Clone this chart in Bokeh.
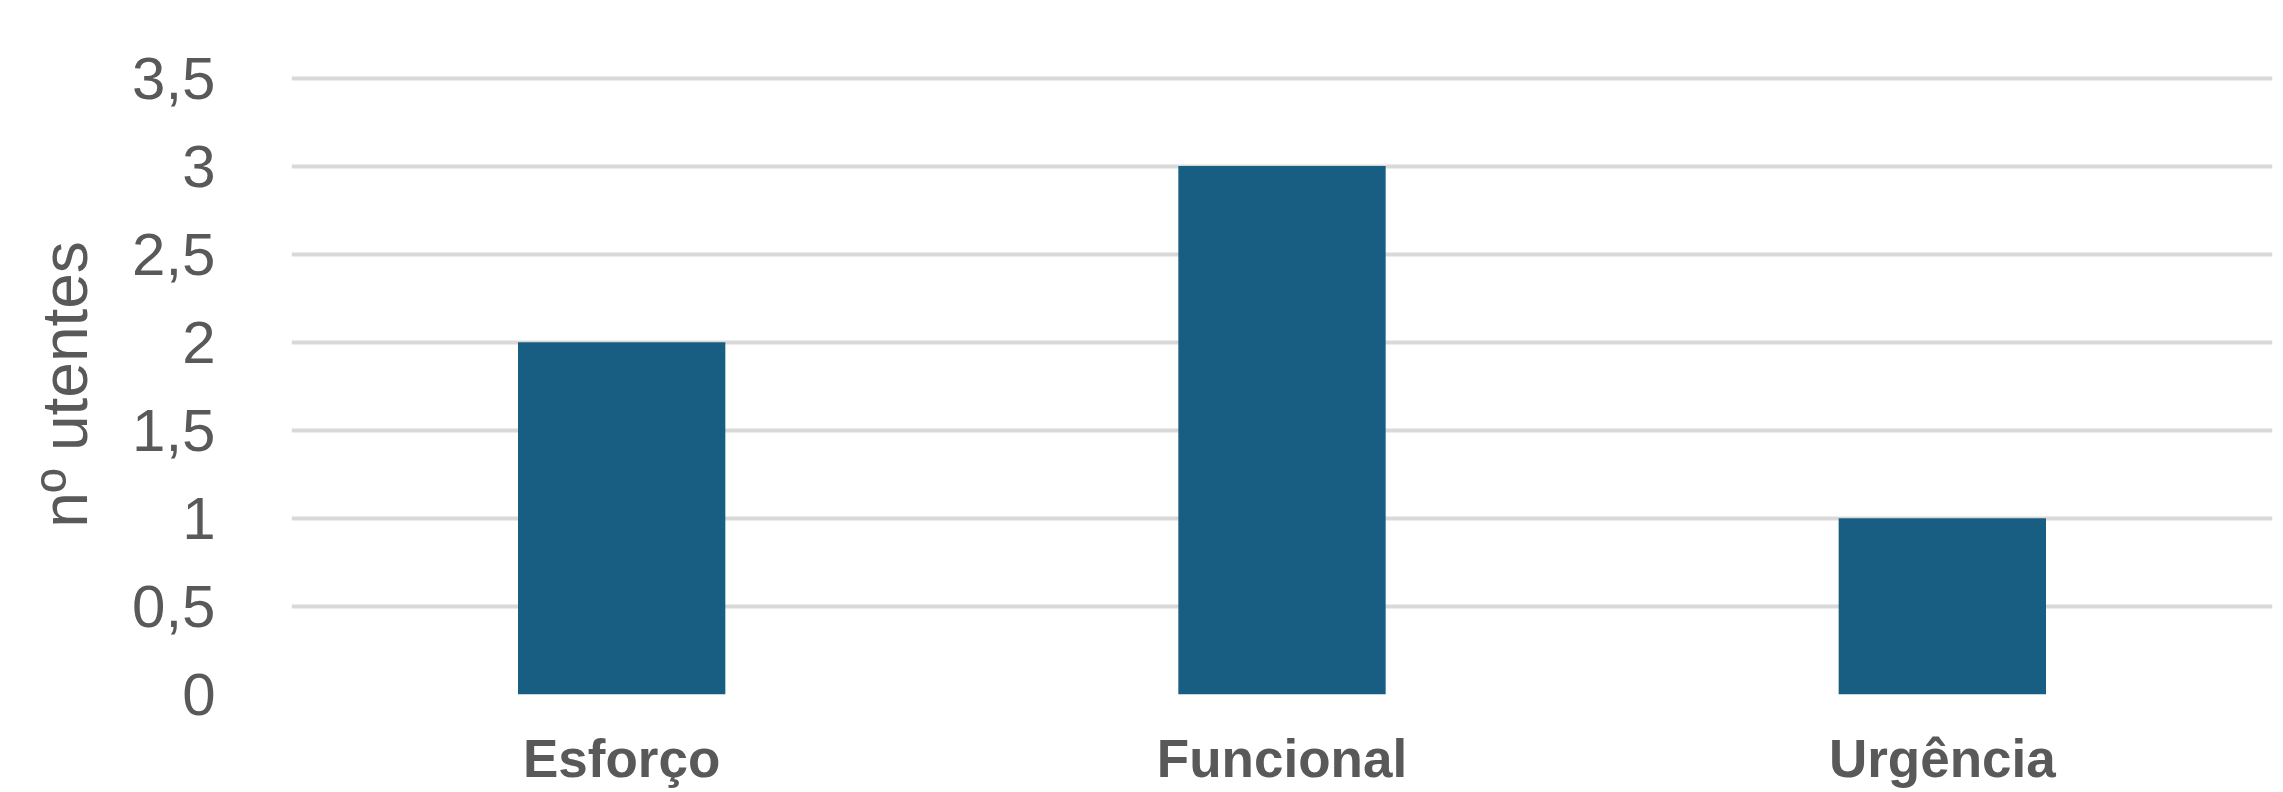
from bokeh.plotting import figure
from bokeh.models import FixedTicker, CustomJSTickFormatter, FactorRange, Range1d
from bokeh.embed import file_html
from bokeh.resources import INLINE

categories = ["Esforço", "Funcional", "Urgência"]
values = [2, 3, 1]
y_ticks = [0, 0.5, 1, 1.5, 2, 2.5, 3, 3.5]
y_label = "nº utentes"

p = figure(width=2283, height=792, x_range=FactorRange(*categories, range_padding=0),
           y_range=Range1d(0, 3.52), output_backend="svg", toolbar_location=None,
           min_border_left=291, min_border_right=11, min_border_top=74, min_border_bottom=98)
p.outline_line_color = None
p.background_fill_color = "white"
p.border_fill_color = "white"

p.vbar(x=categories, top=values, width=0.314, color="#185E82", line_color=None)

p.xgrid.grid_line_color = None
p.ygrid.grid_line_color = "#D9D9D9"
p.ygrid.grid_line_width = 4
p.ygrid.ticker = FixedTicker(ticks=y_ticks)

p.yaxis.ticker = FixedTicker(ticks=y_ticks)
p.yaxis.formatter = CustomJSTickFormatter(code="return tick.toString().replace('.', ',');")
p.yaxis.axis_line_color = None
p.yaxis.major_tick_line_color = None
p.yaxis.minor_tick_line_color = None
p.yaxis.major_tick_out = 0
p.yaxis.major_label_standoff = 76
p.yaxis.major_label_text_font = "Liberation Sans"
p.yaxis.major_label_text_font_size = "60px"
p.yaxis.major_label_text_color = "#595959"
p.yaxis.axis_label = y_label
p.yaxis.axis_label_text_font = "Liberation Sans"
p.yaxis.axis_label_text_font_style = "normal"
p.yaxis.axis_label_text_font_size = "64px"
p.yaxis.axis_label_text_color = "#595959"
p.yaxis.axis_label_standoff = 28

p.xaxis.axis_line_color = None
p.xaxis.major_tick_line_color = None
p.xaxis.major_tick_out = 0
p.xaxis.major_label_standoff = 34
p.xaxis.major_label_text_font = "Liberation Sans"
p.xaxis.major_label_text_font_style = "bold"
p.xaxis.major_label_text_font_size = "53px"
p.xaxis.major_label_text_color = "#595959"

open("out.html", "w").write(file_html(p, INLINE))
